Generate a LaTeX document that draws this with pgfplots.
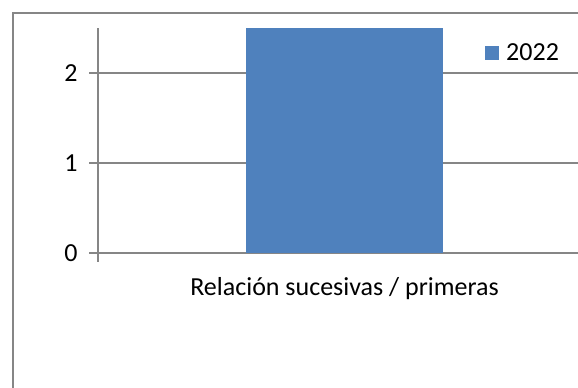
\documentclass[border=0pt]{standalone}
\usepackage{fontspec}
\setmainfont{Carlito}
\usepackage{pgfplots}
\pgfplotsset{compat=1.18}
\definecolor{barblue}{HTML}{4F81BD}
\definecolor{linegray}{HTML}{868686}
\begin{document}
\begin{tikzpicture}[x=1pt,y=1pt]
\path[use as bounding box] (0,0) rectangle (578,388);
\begin{scope}
\clip (0,0) rectangle (578,388);
\draw[linegray, line width=1.3pt] (13,-20) -- (13,375) -- (620,375);
\begin{axis}[
    at={(98pt,135pt)}, anchor=south west,
    width=493pt, height=225pt, scale only axis,
    xmin=0, xmax=1, ymin=0, ymax=2.5,
    ybar, bar width=197pt,
    axis x line*=bottom, axis y line*=left,
    axis line style={linegray, line width=1.2pt, -},
    tick style={linegray, line width=1.2pt},
    tick align=outside, major tick length=9pt,
    ytick={0,1,2},
    xtick={0,1}, xticklabels={},
    extra x ticks={0.5},
    extra x tick labels={Relación sucesivas / primeras},
    extra x tick style={major tick length=0pt, xticklabel style={yshift=-21pt}},
    ymajorgrids, grid style={linegray, line width=1.2pt},
    ticklabel style={font=\fontsize{26}{30}\selectfont},
    /pgf/number format/assume math mode=true,
    yticklabel style={xshift=-8pt},
    clip=false,
    legend style={at={(rel axis cs:0.785,0.89)}, anchor=west, draw=none, fill=none,
        font=\fontsize{26}{30}\selectfont, inner sep=0pt,
        nodes={inner xsep=7pt, inner ysep=0pt}},
    legend image code/.code={\fill[#1] (0pt,-7pt) rectangle (14pt,7pt);},
]
\addplot[fill=barblue, draw=none, bar shift=0pt] coordinates {(0.5,2.5)};
\addlegendentry{2022}
\end{axis}
\end{scope}
\end{tikzpicture}
\end{document}
